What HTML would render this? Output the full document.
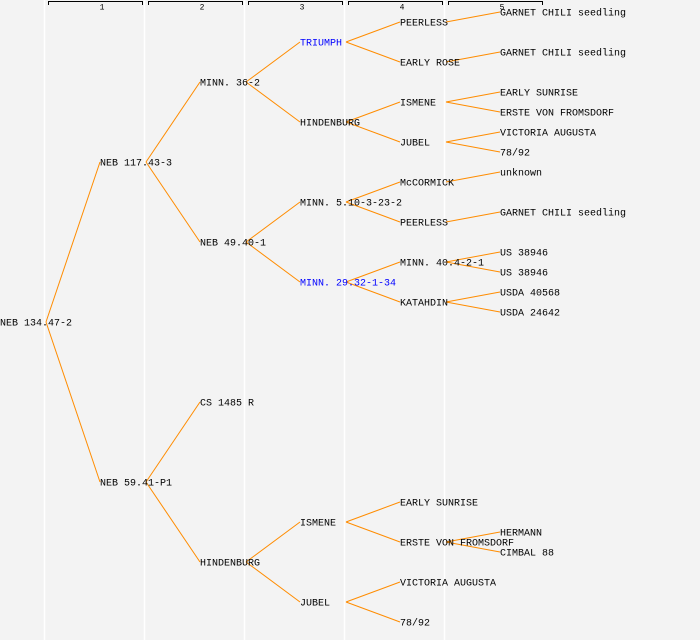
<!DOCTYPE html>
<html><head><meta charset="utf-8"><style>
html,body{margin:0;padding:0;background:#f3f3f3;}
svg{display:block;}
text{font-family:"Liberation Mono","DejaVu Sans Mono",monospace;font-size:10px;fill:#000;dominant-baseline:central;}
</style></head><body>
<svg width="700" height="640" viewBox="0 0 700 640">
<rect width="700" height="640" fill="#f3f3f3"/>
<g stroke="#fff" stroke-width="1.5">
<line x1="44.5" y1="0" x2="44.5" y2="640"/><line x1="144.5" y1="0" x2="144.5" y2="640"/><line x1="244.5" y1="0" x2="244.5" y2="640"/><line x1="344.5" y1="0" x2="344.5" y2="640"/><line x1="444.5" y1="0" x2="444.5" y2="640"/>
</g>
<g stroke="#000" stroke-width="1" fill="none">
<path d="M48.5 5V1.5H142.5V5"/><path d="M148.5 5V1.5H242.5V5"/><path d="M248.5 5V1.5H342.5V5"/><path d="M348.5 5V1.5H442.5V5"/><path d="M448.5 5V1.5H542.5V5"/>
</g>
<g><text x="102" y="8" text-anchor="middle" style="font-size:8px">1</text><text x="202" y="8" text-anchor="middle" style="font-size:8px">2</text><text x="302" y="8" text-anchor="middle" style="font-size:8px">3</text><text x="402" y="8" text-anchor="middle" style="font-size:8px">4</text><text x="502" y="8" text-anchor="middle" style="font-size:8px">5</text></g>
<g stroke="#ff8c00" stroke-width="1" fill="none">
<line x1="46" y1="322" x2="100" y2="162"/><line x1="46" y1="322" x2="100" y2="482"/>
<line x1="146" y1="162" x2="200" y2="82"/><line x1="146" y1="162" x2="200" y2="242"/>
<line x1="146" y1="482" x2="200" y2="402"/><line x1="146" y1="482" x2="200" y2="562"/>
<line x1="246" y1="82" x2="300" y2="42"/><line x1="246" y1="82" x2="300" y2="122"/>
<line x1="246" y1="242" x2="300" y2="202"/><line x1="246" y1="242" x2="300" y2="282"/>
<line x1="246" y1="562" x2="300" y2="522"/><line x1="246" y1="562" x2="300" y2="602"/>
<line x1="346" y1="42" x2="400" y2="22"/><line x1="346" y1="42" x2="400" y2="62"/>
<line x1="346" y1="122" x2="400" y2="102"/><line x1="346" y1="122" x2="400" y2="142"/>
<line x1="346" y1="202" x2="400" y2="182"/><line x1="346" y1="202" x2="400" y2="222"/>
<line x1="346" y1="282" x2="400" y2="262"/><line x1="346" y1="282" x2="400" y2="302"/>
<line x1="346" y1="522" x2="400" y2="502"/><line x1="346" y1="522" x2="400" y2="542"/>
<line x1="346" y1="602" x2="400" y2="582"/><line x1="346" y1="602" x2="400" y2="622"/>
<line x1="446" y1="22" x2="500" y2="12"/><line x1="446" y1="62" x2="500" y2="52"/>
<line x1="446" y1="102" x2="500" y2="92"/><line x1="446" y1="102" x2="500" y2="112"/>
<line x1="446" y1="142" x2="500" y2="132"/><line x1="446" y1="142" x2="500" y2="152"/>
<line x1="446" y1="182" x2="500" y2="172"/><line x1="446" y1="222" x2="500" y2="212"/>
<line x1="446" y1="262" x2="500" y2="252"/><line x1="446" y1="262" x2="500" y2="272"/>
<line x1="446" y1="302" x2="500" y2="292"/><line x1="446" y1="302" x2="500" y2="312"/>
<line x1="446" y1="542" x2="500" y2="532"/><line x1="446" y1="542" x2="500" y2="552"/>
</g>
<g transform="translate(0,2)">
<text x="0" y="322">NEB 134.47-2</text>
<text x="100" y="162">NEB 117.43-3</text><text x="100" y="482">NEB 59.41-P1</text>
<text x="200" y="82">MINN. 36-2</text><text x="200" y="242">NEB 49.40-1</text><text x="200" y="402">CS 1485 R</text><text x="200" y="562">HINDENBURG</text>
<text x="300" y="42" style="fill:#0000ff">TRIUMPH</text><text x="300" y="122">HINDENBURG</text><text x="300" y="202">MINN. 5.10-3-23-2</text><text x="300" y="282" style="fill:#0000ff">MINN. 29.32-1-34</text><text x="300" y="522">ISMENE</text><text x="300" y="602">JUBEL</text>
<text x="400" y="22">PEERLESS</text><text x="400" y="62">EARLY ROSE</text><text x="400" y="102">ISMENE</text><text x="400" y="142">JUBEL</text><text x="400" y="182">McCORMICK</text><text x="400" y="222">PEERLESS</text><text x="400" y="262">MINN. 40.4-2-1</text><text x="400" y="302">KATAHDIN</text><text x="400" y="502">EARLY SUNRISE</text><text x="400" y="542">ERSTE VON FROMSDORF</text><text x="400" y="582">VICTORIA AUGUSTA</text><text x="400" y="622">78/92</text>
<text x="500" y="12">GARNET CHILI seedling</text><text x="500" y="52">GARNET CHILI seedling</text><text x="500" y="92">EARLY SUNRISE</text><text x="500" y="112">ERSTE VON FROMSDORF</text><text x="500" y="132">VICTORIA AUGUSTA</text><text x="500" y="152">78/92</text><text x="500" y="172">unknown</text><text x="500" y="212">GARNET CHILI seedling</text><text x="500" y="252">US 38946</text><text x="500" y="272">US 38946</text><text x="500" y="292">USDA 40568</text><text x="500" y="312">USDA 24642</text><text x="500" y="532">HERMANN</text><text x="500" y="552">CIMBAL 88</text>
</g>
</svg>
</body></html>
